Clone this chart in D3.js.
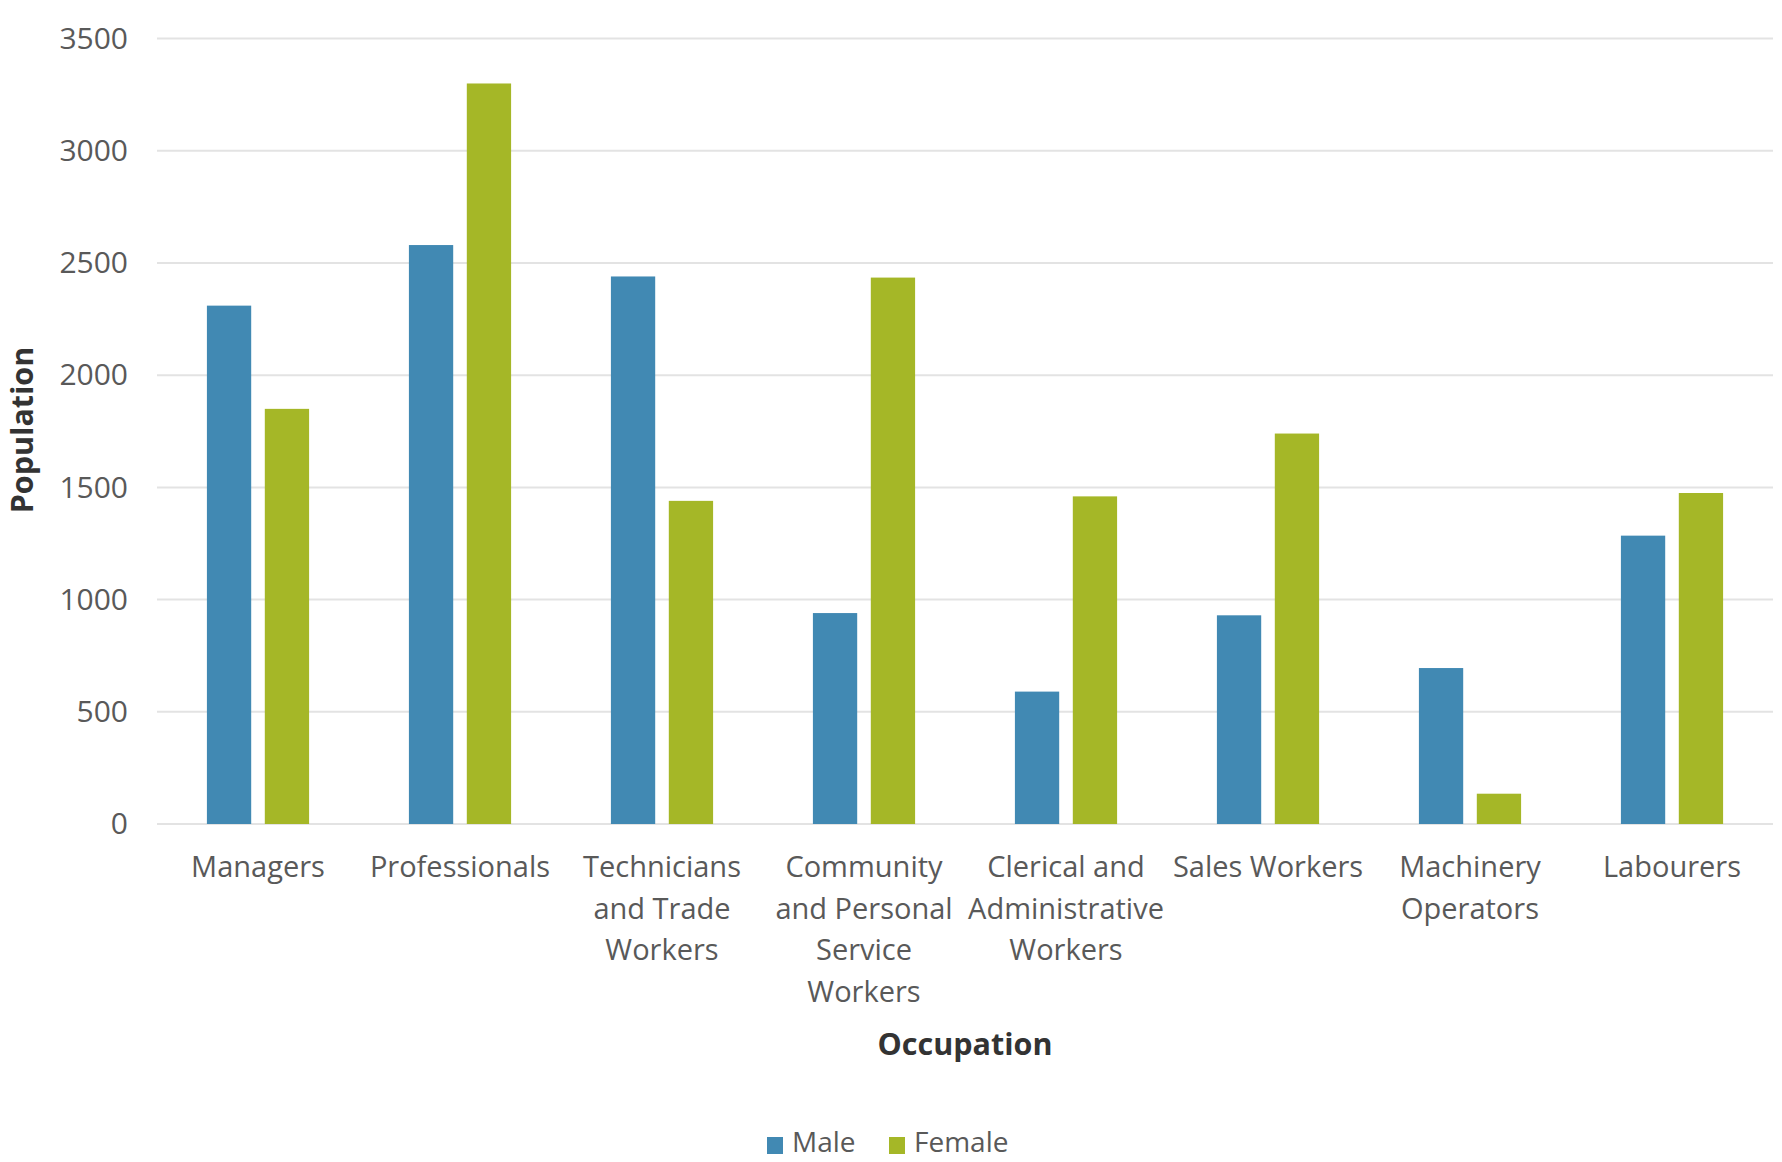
<!DOCTYPE html>
<html>
<head>
<meta charset="utf-8">
<script src="https://cdn.jsdelivr.net/npm/d3@7"></script>
<style>
  html, body { margin: 0; padding: 0; background: #ffffff; }
  svg { display: block; font-family: "Open Sans", sans-serif; }
</style>
</head>
<body>
<svg id="chart" width="1782" height="1162"></svg>
<script>
const categories = [
  ["Managers"],
  ["Professionals"],
  ["Technicians", "and Trade", "Workers"],
  ["Community", "and Personal", "Service", "Workers"],
  ["Clerical and", "Administrative", "Workers"],
  ["Sales Workers"],
  ["Machinery", "Operators"],
  ["Labourers"]
];
const maleValues   = [2310, 2580, 2440, 940, 590, 930, 695, 1285];
const femaleValues = [1850, 3300, 1440, 2435, 1460, 1740, 135, 1475];
const seriesNames  = ["Male", "Female"];
const seriesColors = ["#4189b3", "#a5b727"];
const yTicks = [0, 500, 1000, 1500, 2000, 2500, 3000, 3500];

const svg = d3.select("#chart");
const plotLeft = 157, plotRight = 1773, plotTop = 38.6, plotBottom = 824;

const catKeys = categories.map((c, i) => i);
const x = d3.scaleBand().domain(catKeys).range([plotLeft, plotRight]).paddingInner(0).paddingOuter(0);
const xSub = d3.scaleBand().domain(seriesNames).range([0, x.bandwidth()]).paddingInner(0.235).paddingOuter(0.862);
const y = d3.scaleLinear().domain([0, 3500]).range([plotBottom, plotTop]);

// gridlines
svg.append("g")
  .selectAll("line")
  .data(yTicks)
  .join("line")
  .attr("x1", plotLeft).attr("x2", plotRight)
  .attr("y1", d => y(d)).attr("y2", d => y(d))
  .attr("stroke", "#e3e3e3").attr("stroke-width", 2);

// y axis labels
const yAxis = d3.axisLeft(y).tickValues(yTicks).tickFormat(d3.format("d")).tickSize(0).tickPadding(0);
const yg = svg.append("g").attr("transform", `translate(${plotLeft - 29},0)`).call(yAxis);
yg.select(".domain").remove();
yg.selectAll("text")
  .attr("font-family", "'Open Sans', sans-serif")
  .attr("font-size", 30)
  .attr("fill", "#595959");

// bars
const series = [maleValues, femaleValues];
series.forEach((vals, si) => {
  svg.append("g")
    .selectAll("rect")
    .data(vals)
    .join("rect")
    .attr("x", (d, i) => x(i) + xSub(seriesNames[si]))
    .attr("width", xSub.bandwidth())
    .attr("y", d => y(d))
    .attr("height", d => y(0) - y(d))
    .attr("fill", seriesColors[si]);
});

// category labels
const lineH = 41.5;
const labelY = 869.5;
const catG = svg.append("g");
categories.forEach((lines, i) => {
  const t = catG.append("text")
    .attr("x", x(i) + x.bandwidth() / 2)
    .attr("y", labelY)
    .attr("text-anchor", "middle")
    .attr("font-size", 29)
    .attr("fill", "#595959");
  lines.forEach((ln, j) => {
    t.append("tspan")
      .attr("x", x(i) + x.bandwidth() / 2)
      .attr("y", labelY + j * lineH)
      .attr("dominant-baseline", "middle")
      .text(ln);
  });
});

// axis titles
svg.append("text")
  .attr("x", 965).attr("y", 1047)
  .attr("text-anchor", "middle")
  .attr("dominant-baseline", "middle")
  .attr("font-size", 30.5).attr("font-weight", "bold")
  .attr("fill", "#333333")
  .text("Occupation");

svg.append("text")
  .attr("transform", "translate(25,430) rotate(-90)")
  .attr("text-anchor", "middle")
  .attr("dominant-baseline", "middle")
  .attr("font-size", 30.5).attr("font-weight", "bold")
  .attr("fill", "#333333")
  .text("Population");

// legend
const legendItems = [
  { name: seriesNames[0], color: seriesColors[0], x: 767 },
  { name: seriesNames[1], color: seriesColors[1], x: 889 }
];
const lg = svg.append("g");
legendItems.forEach(it => {
  lg.append("rect")
    .attr("x", it.x).attr("y", 1137)
    .attr("width", 16).attr("height", 17)
    .attr("fill", it.color);
  lg.append("text")
    .attr("x", it.x + 25).attr("y", 1144.5)
    .attr("dominant-baseline", "middle")
    .attr("font-size", 28)
    .attr("fill", "#595959")
    .text(it.name);
});
</script>
</body>
</html>
